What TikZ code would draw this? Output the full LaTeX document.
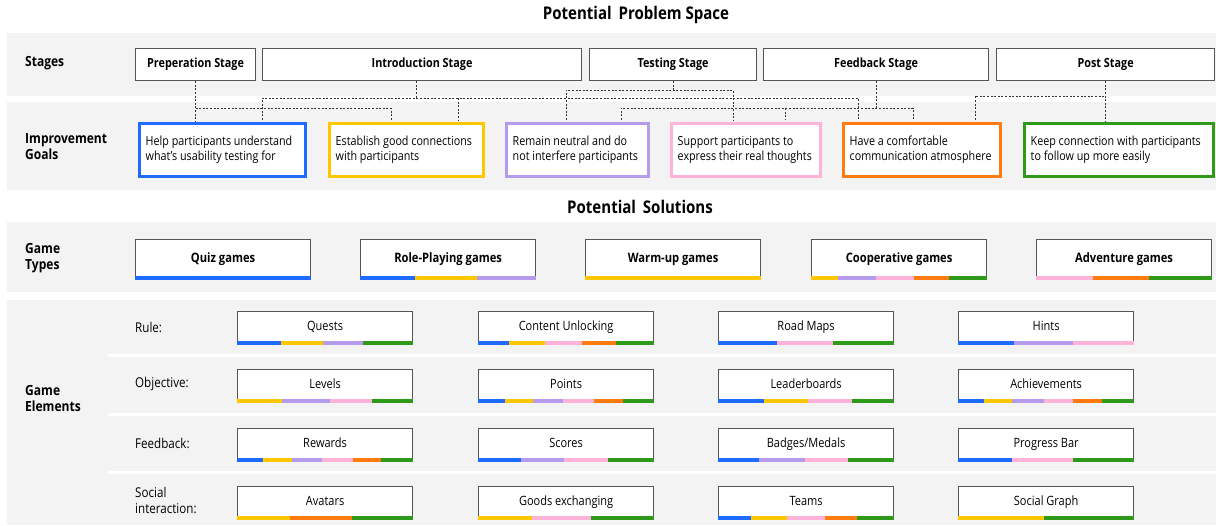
\documentclass[tikz,border=0pt]{standalone}
\usepackage{fontspec}
\setmainfont{Open Sans}[FakeStretch=0.86]
\usetikzlibrary{calc}
\definecolor{cblue}{HTML}{1F6BFF}
\definecolor{cyellow}{HTML}{FFC700}
\definecolor{cpurple}{HTML}{B59BEB}
\definecolor{cpink}{HTML}{FFB3D9}
\definecolor{corange}{HTML}{FF7A0F}
\definecolor{cgreen}{HTML}{2F9A1A}
\definecolor{cborder}{HTML}{555555}
\definecolor{cband}{HTML}{F3F3F3}
\newcommand\colbar[3]{%
  \xdef\cbacc{0}%
  \foreach \cc/\ww in {#3}{%
    \pgfmathsetmacro\cbfa{\cbacc/#2}%
    \pgfmathsetmacro\cbfb{(\cbacc+\ww)/#2}%
    \fill[\cc] ($(#1.south west)!\cbfa!(#1.south east)+(0,1)$) rectangle ($(#1.south west)!\cbfb!(#1.south east)+(0,-3.5)$);%
    \pgfmathsetmacro\cbnext{\cbacc+\ww}%
    \xdef\cbacc{\cbnext}%
  }%
}
\tikzset{
  band/.style={fill=cband},
  title/.style={font=\bfseries\fontsize{17.5}{20}\selectfont, anchor=center},
  rowlabel/.style={font=\bfseries\fontsize{14}{16}\selectfont, anchor=west, align=left, inner sep=0},
  sublabel/.style={font=\fontsize{13.5}{16}\selectfont, anchor=west, align=left, inner sep=0},
  stagebox/.style={draw=cborder, line width=1.2pt, fill=white, anchor=north west, minimum height=32pt, inner sep=0, text height=9pt, text depth=2.5pt, font=\bfseries\fontsize{12.6}{14}\selectfont},
  goal/.style={line width=3pt, fill=white, anchor=north west, minimum height=53pt, inner sep=0},
  goaltext/.style={anchor=west, inner sep=0, align=left, font=\fontsize{12.5}{15}\selectfont},
  typebox/.style={draw=cborder, line width=1.2pt, fill=white, anchor=north west, minimum width=175pt, minimum height=39pt, inner sep=0, text height=9.5pt, text depth=3pt, font=\bfseries\fontsize{13}{15}\selectfont},
  elbox/.style={draw=cborder, line width=1.2pt, fill=white, anchor=north west, minimum width=175pt, minimum height=32pt, inner sep=0, text height=9.5pt, text depth=3pt, font=\fontsize{12.8}{15}\selectfont},
  conn/.style={draw=black!80, line width=1pt, dash pattern=on 2pt off 1.6pt},
}
\begin{document}
\begin{tikzpicture}[x=1pt,y=-1pt]
\useasboundingbox (0,0) rectangle (1216,525);
% bands
\fill[band] (7,33) rectangle (1216,96);
\fill[band] (7,102) rectangle (1216,190);
\fill[band] (7,222) rectangle (1216,292);
\fill[band] (7,300) rectangle (1216,525);
\fill[white] (108,353.5) rectangle (1216,356.5);
\fill[white] (108,412.5) rectangle (1216,415.5);
\fill[white] (108,470.5) rectangle (1216,473.5);
% titles
\node[title] (t1) at (636,15) {Potential\, Problem Space};
\node[title] (t2) at (640,207) {Potential\, Solutions};
% row labels
\node[rowlabel] (lst) at (25,63) {Stages};
\node[rowlabel] (lgo) at (25,147) {Improvement\\Goals};
\node[rowlabel] (lgt) at (25,258) {Game\\Types};
\node[rowlabel] (lge) at (25,398) {Game\\Elements};
\node[sublabel] (lr1) at (135,327) {Rule:};
\node[sublabel] (lr2) at (135,384) {Objective:};
\node[sublabel] (lr3) at (135,443) {Feedback:};
\node[sublabel] (lr4) at (135,500) {Social\\interaction:};
% stages
\node[stagebox, minimum width=120pt] (prep) at (135,48) {Preperation Stage};
\node[stagebox, minimum width=319pt] (intro) at (262,48) {Introduction Stage};
\node[stagebox, minimum width=167pt] (test) at (589,48) {Testing Stage};
\node[stagebox, minimum width=225pt] (feed) at (763,48) {Feedback Stage};
\node[stagebox, minimum width=218pt] (post) at (996,48) {Post Stage};
% goals
\node[goal, draw=cblue, minimum width=166pt] (help) at (137.5,121.5) {};
\node[goal, draw=cyellow, minimum width=154pt] (estab) at (327.5,121.5) {};
\node[goal, draw=cpurple, minimum width=142pt] (remain) at (504.5,121.5) {};
\node[goal, draw=cpink, minimum width=149pt] (support) at (669.5,121.5) {};
\node[goal, draw=corange, minimum width=157pt] (comfort) at (841.5,121.5) {};
\node[goal, draw=cgreen, minimum width=189pt] (keep) at (1022.5,121.5) {};
\node[goaltext] (helpT) at ([xshift=8pt]help.west) {Help participants understand\\what’s usability testing for};
\node[goaltext] (estabT) at ([xshift=8pt]estab.west) {Establish good connections\\with participants};
\node[goaltext] (remainT) at ([xshift=8pt]remain.west) {Remain neutral and do\\not interfere participants};
\node[goaltext] (supportT) at ([xshift=8pt]support.west) {Support participants to\\express their real thoughts};
\node[goaltext] (comfortT) at ([xshift=8pt]comfort.west) {Have a comfortable\\communication atmosphere};
\node[goaltext] (keepT) at ([xshift=8pt]keep.west) {Keep connection with participants\\to follow up more easily};
% connector levels and drop points
\coordinate (lvP) at (0,108);
\coordinate (lvI) at (0,98);
\coordinate (lvT) at (0,90);
\coordinate (lvF) at (0,108);
\coordinate (lvQ) at (0,96);
\coordinate (h2) at (262,120);
\coordinate (e1) at (391,120);
\coordinate (e2) at (458,120);
\coordinate (r1) at (566,120);
\coordinate (r2) at (621,120);
\coordinate (s1) at (733,120);
\coordinate (s2) at (785,120);
\coordinate (c1) at (858,120);
\coordinate (c2) at (913,120);
\coordinate (c3) at (975,120);
% preparation
\draw[conn] (prep.south) -- (prep.south |- help.north);
\draw[conn] (prep.south |- lvP) -| (e1);
% introduction
\draw[conn] ([xshift=-6pt]intro.south) -- ([xshift=-6pt]intro.south |- lvI);
\draw[conn] (h2) |- (c1 |- lvI) -- (c1);
\draw[conn] (e2 |- lvI) -- (e2);
% testing
\draw[conn] (test.south) -- (test.south |- lvT);
\draw[conn] (r1) |- (s1 |- lvT) -- (s1);
% feedback
\draw[conn] (feed.south) -- (feed.south |- lvF);
\draw[conn] (r2) |- (c2 |- lvF) -- (c2);
\draw[conn] (s2 |- lvF) -- (s2);
% post
\draw[conn] (post.south) -- (post.south |- keep.north);
\draw[conn] (c3) |- (post.south |- lvQ);
% game types
\node[typebox] (quiz) at (135,239) {Quiz games};
\node[typebox] (role) at (360,239) {Role-Playing games};
\node[typebox] (warm) at (585,239) {Warm-up games};
\node[typebox] (coop) at (811,239) {Cooperative games};
\node[typebox] (adv) at (1036,239) {Adventure games};
\colbar{quiz}{1}{cblue/1}
\colbar{role}{444}{cblue/139,cyellow/155,cpurple/150}
\colbar{warm}{1}{cyellow/1}
\colbar{coop}{448}{cyellow/68,cpurple/97,cpink/96,corange/89,cgreen/98}
\colbar{adv}{450}{cpink/145,corange/143,cgreen/162}
% game elements
\node[elbox] (quests) at (237,311) {Quests};
\node[elbox] (content) at (478,311) {Content Unlocking};
\node[elbox] (road) at (718,311) {Road Maps};
\node[elbox] (hints) at (958,311) {Hints};
\node[elbox] (levels) at (237,369) {Levels};
\node[elbox] (points) at (478,369) {Points};
\node[elbox] (leader) at (718,369) {Leaderboards};
\node[elbox] (achieve) at (958,369) {Achievements};
\node[elbox] (rewards) at (237,428) {Rewards};
\node[elbox] (scores) at (478,428) {Scores};
\node[elbox] (badges) at (718,428) {Badges/Medals};
\node[elbox] (progress) at (958,428) {Progress Bar};
\node[elbox] (avatars) at (237,486) {Avatars};
\node[elbox] (goods) at (478,486) {Goods exchanging};
\node[elbox] (teams) at (718,486) {Teams};
\node[elbox] (social) at (958,486) {Social Graph};
\colbar{quests}{443}{cblue/111,cyellow/106,cpurple/101,cgreen/125}
\colbar{content}{523}{cblue/93,cyellow/107,cpink/109,corange/102,cgreen/112}
\colbar{road}{446}{cblue/150,cpink/140,cgreen/156}
\colbar{hints}{447}{cblue/141,cpurple/151,cpink/155}
\colbar{levels}{443}{cyellow/114,cpurple/121,cpink/105,cgreen/103}
\colbar{points}{525}{cblue/79,cyellow/84,cpurple/91,cpink/93,corange/84,cgreen/94}
\colbar{leader}{446}{cblue/116,cyellow/111,cpink/113,cgreen/106}
\colbar{achieve}{447}{cblue/65,cyellow/73,cpurple/79,cpink/75,corange/74,cgreen/81}
\colbar{rewards}{442}{cblue/65,cyellow/72,cpurple/77,cpink/77,corange/71,cgreen/80}
\colbar{scores}{526}{cblue/128,cpurple/129,cpink/132,cgreen/137}
\colbar{badges}{446}{cblue/105,cpurple/116,cpink/108,cgreen/117}
\colbar{progress}{447}{cblue/138,cpink/154,cgreen/155}
\colbar{avatars}{443}{cyellow/134,corange/155,cgreen/154}
\colbar{goods}{523}{cyellow/161,cpink/175,cgreen/187}
\colbar{teams}{446}{cblue/83,cyellow/91,cpink/97,corange/82,cgreen/93}
\colbar{social}{447}{cyellow/217,cgreen/230}
\end{tikzpicture}
\end{document}
